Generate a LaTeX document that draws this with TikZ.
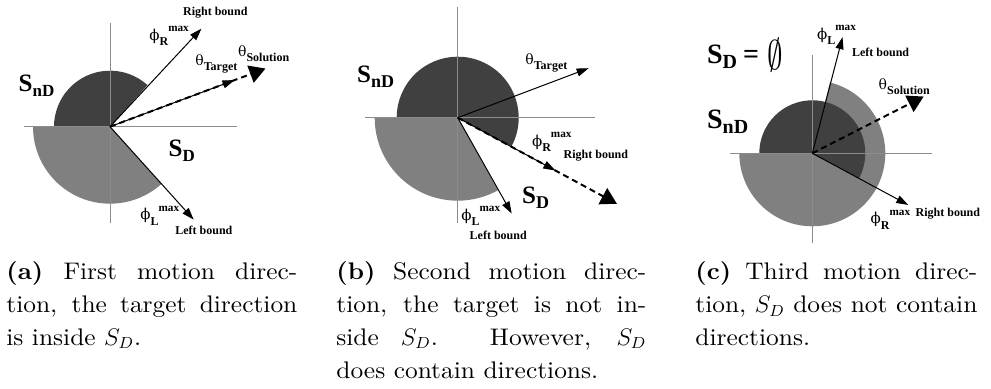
\documentclass[tikz,border=0pt]{standalone}
\usepackage{fontspec}
\usepackage{amsmath,amssymb}
\usepackage{tikz}
\usetikzlibrary{arrows.meta}
\setmainfont{lmroman10}[Extension=.otf,UprightFont=*-regular,BoldFont=*-bold,ItalicFont=*-italic,FakeStretch=1.06]
\newfontfamily\figfont{Liberation Serif}
\newfontfamily\grkfont{DejaVu Serif}
\definecolor{darkset}{gray}{0.25}
\definecolor{lightset}{gray}{0.5}
\definecolor{axisgray}{gray}{0.55}
\newcommand\philab[1]{{\grkfont\mdseries\fontsize{7.5}{8}\selectfont ϕ}\raisebox{-2.6pt}{\fontsize{6}{7}\selectfont #1}\raisebox{4.4pt}{\fontsize{5.6}{6}\selectfont max}}
\newcommand\thetalab[1]{{\grkfont\mdseries\fontsize{7}{8}\selectfont θ}\raisebox{-2.2pt}{#1}}
\newcommand\setsym[2][8.5]{S\raisebox{-2.6pt}{\fontsize{#1}{#1}\selectfont #2}}
\tolerance=10000

\begin{document}
\begin{tikzpicture}[x=0.5pt,y=0.5pt,
  axis/.style={draw=axisgray,line width=0.5pt},
  bound/.style={line width=0.5pt,-{Triangle[length=6pt,width=4pt]}},
  solution/.style={line width=1pt,dash pattern=on 3pt off 2pt,-{Triangle[length=8pt,width=9pt]}},
  lab/.style={inner sep=0pt,anchor=base west,font=\figfont\bfseries\fontsize{6}{7}\selectfont},
  setlabel/.style={inner sep=0pt,anchor=base west,font=\figfont\bfseries\fontsize{12.5}{13}\selectfont},
  capt/.style={inner sep=0pt,anchor=base west,align=justify,font=\fontsize{12}{16.35}\selectfont}]
\useasboundingbox (0,0) rectangle (991,389);

\begin{scope}[shift={(110,262.3)}]
\coordinate (a-o) at (0,0);
\fill[lightset] (a-o) -- (180:77) arc[start angle=180,end angle=312,radius=77] -- cycle;
\fill[darkset] (a-o) -- (48:56) arc[start angle=48,end angle=180,radius=56] -- cycle;
\coordinate (a-w) at (-86,0);
\coordinate (a-e) at (127,0);
\coordinate (a-n) at (0,103.7);
\coordinate (a-s) at (0,-96.3);
\draw[axis] (a-w) -- (a-e) (a-n) -- (a-s);
\coordinate (a-right) at (47:134);
\coordinate (a-left) at (-48:125);
\coordinate (a-target) at (20.5:133);
\coordinate (a-sol) at (20.5:166);
\draw[bound] (a-o) -- (a-right);
\draw[bound] (a-o) -- (a-left);
\draw[bound] (a-o) -- (a-target);
\draw[solution] (a-o) -- (a-sol);
\node[lab] (a-rb) at (72.7,110.7) {Right bound};
\node[lab] (a-phir) at (39,86) {\philab{R}};
\node[lab] (a-tsol) at (127.7,70) {\thetalab{Solution}};
\node[lab] (a-ttar) at (85,61) {\thetalab{Target}};
\node[setlabel] (a-snd) at (-91.7,35) {\setsym{nD}};
\node[setlabel] (a-sd) at (58.3,-30) {\setsym{D}};
\node[lab] (a-phil) at (30,-93.3) {\philab{L}};
\node[lab] (a-lb) at (65,-108.3) {Left bound};
\end{scope}

\begin{scope}[shift={(457.7,271.3)}]
\coordinate (b-o) at (0,0);
\fill[lightset] (b-o) -- (180:83) arc[start angle=180,end angle=299,radius=83] -- cycle;
\fill[darkset] (b-o) -- (-28:61) arc[start angle=-28,end angle=180,radius=61] -- cycle;
\coordinate (b-w) at (-92.7,0);
\coordinate (b-e) at (137.3,0);
\coordinate (b-n) at (0,111);
\coordinate (b-s) at (0,-105.6);
\draw[axis] (b-w) -- (b-e) (b-n) -- (b-s);
\coordinate (b-right) at (-28.4:111);
\coordinate (b-left) at (-60.6:110);
\coordinate (b-target) at (20.7:140);
\coordinate (b-sol) at (-28.4:181);
\draw[solution] (b-o) -- (b-sol);
\draw[bound] (b-o) -- (b-right);
\draw[bound] (b-o) -- (b-left);
\draw[bound] (b-o) -- (b-target);
\node[lab] (b-ttar) at (67.3,52.7) {\thetalab{Target}};
\node[setlabel] (b-snd) at (-101,35) {\setsym[9]{nD}};
\node[lab] (b-phir) at (74,-29) {\philab{R}};
\node[lab] (b-rb) at (105.6,-40.6) {Right bound};
\node[setlabel] (b-sd) at (64,-85.6) {\setsym[9]{D}};
\node[lab] (b-phil) at (3.3,-103) {\philab{L}};
\node[lab] (b-lb) at (11.6,-122.3) {Left bound};
\end{scope}

\begin{scope}[shift={(812.3,235.7)}]
\coordinate (c-o) at (0,0);
\fill[lightset] (c-o) -- (180:73) arc[start angle=180,end angle=436,radius=73] -- cycle;
\fill[darkset] (c-o) -- (-28:53) arc[start angle=-28,end angle=180,radius=53] -- cycle;
\coordinate (c-w) at (-82.3,0);
\coordinate (c-e) at (119.4,0);
\coordinate (c-n) at (0,98.3);
\coordinate (c-s) at (0,-90);
\draw[axis] (c-w) -- (c-e) (c-n) -- (c-s);
\coordinate (c-left) at (75.4:120);
\coordinate (c-right) at (-28.3:109);
\coordinate (c-sol) at (27:125);
\draw[bound] (c-o) -- (c-left);
\draw[bound] (c-o) -- (c-right);
\draw[solution] (c-o) -- (c-sol);
\node[setlabel,font=\figfont\bfseries\fontsize{14}{15}\selectfont] (c-sd) at (-105.6,90) {\setsym[10]{D}\hspace{3pt}=};
\node[inner sep=0pt,font=\fontsize{22}{22}\selectfont] (c-empty) at (-37.3,98.3) {\scalebox{0.75}[1]{$\emptyset$}};
\node[setlabel,font=\figfont\bfseries\fontsize{14}{15}\selectfont] (c-snd) at (-105.6,25) {\setsym[10]{nD}};
\node[lab] (c-phil) at (4.4,114) {\philab{L}};
\node[lab] (c-lb) at (39.4,96.6) {Left bound};
\node[lab] (c-tsol) at (66,63.3) {\thetalab{Solution}};
\node[lab] (c-phir) at (58,-70.7) {\philab{R}};
\node[lab] (c-rb) at (103,-63.4) {Right bound};
\end{scope}

\node[capt,text width=145.5pt] (cap-a) at (6,109)
  {\textbf{(a)} First motion direc-\linebreak tion, the target direction\linebreak is inside $S_D$.};
\node[capt,text width=155pt] (cap-b) at (336,109)
  {\textbf{(b)} Second motion direc-\linebreak tion, the target is not in-\linebreak side $S_D$. However, $S_D$\linebreak does contain directions.};
\node[capt,text width=141pt] (cap-c) at (695,109)
  {\textbf{(c)} Third motion direc-\linebreak tion, $S_D$ does not contain\linebreak directions.};
\end{tikzpicture}
\end{document}
